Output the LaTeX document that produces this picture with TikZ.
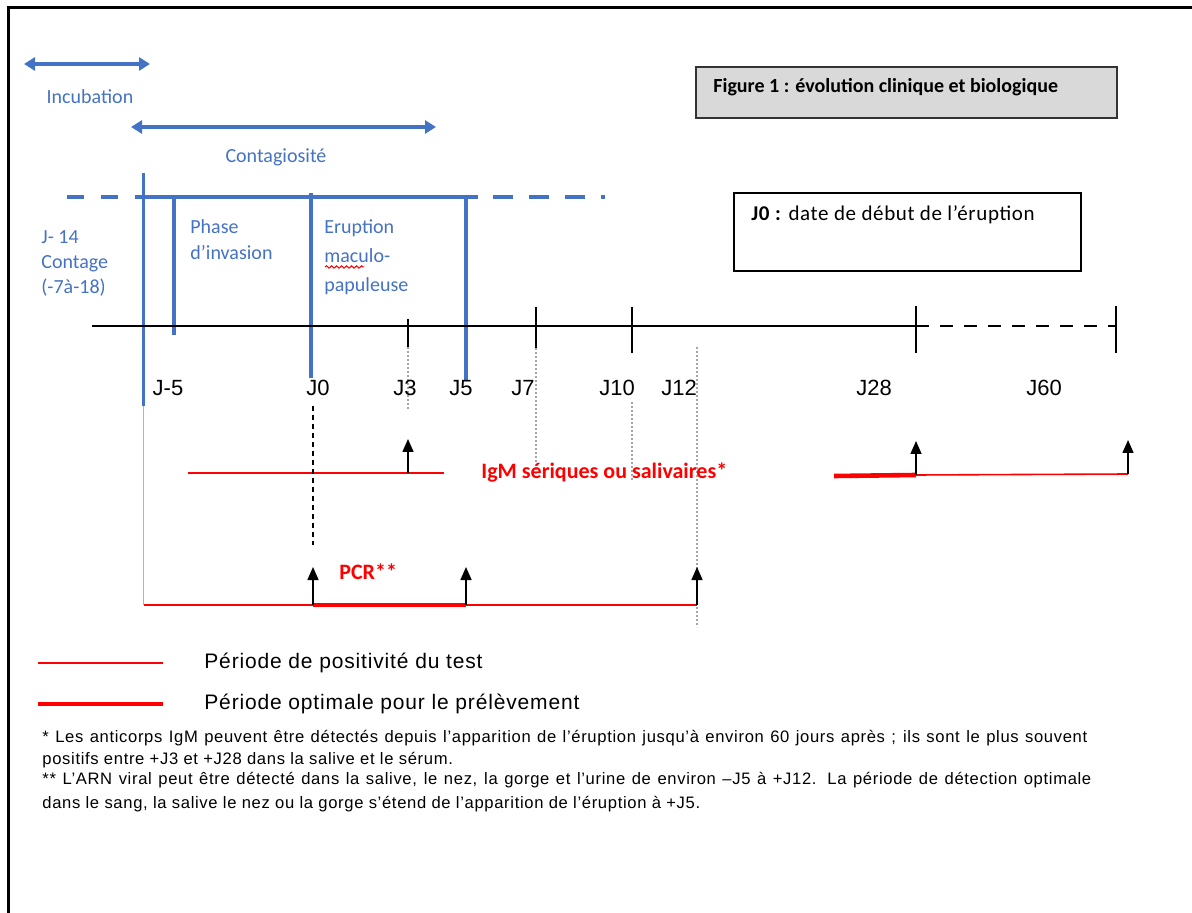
\documentclass[tikz,border=0pt]{standalone}
\usepackage{fontspec}
\setmainfont{Liberation Sans}
\newfontfamily\calib{Carlito}
\usetikzlibrary{arrows.meta,decorations.pathmorphing}
\definecolor{bleuph}{RGB}{68,114,196}
\definecolor{rougetest}{RGB}{255,0,0}
\definecolor{grisfig}{RGB}{217,217,217}
\definecolor{grispt}{RGB}{165,165,165}
\tikzset{
  phase/.style={bleuph,line width=1.6pt},
  duree/.style={phase,{Triangle[width=6.5pt,length=5.5pt]}-{Triangle[width=6.5pt,length=5.5pt]}},
  txtbleu/.style={text=bleuph,font=\calib\fontsize{10}{13.5}\selectfont,align=left,inner sep=0pt},
  jour/.style={font=\fontsize{11}{13}\selectfont,inner sep=0pt},
  repere/.style={line width=0.7pt},
  pointille/.style={grispt,line width=0.7pt,dash pattern=on 0.8pt off 1.2pt},
  positif/.style={rougetest,line width=0.8pt},
  optimal/.style={rougetest,line width=2.3pt},
  montee/.style={line width=0.8pt,-{Triangle[width=5.5pt,length=6.5pt]}},
  txtrouge/.style={text=rougetest,font=\calib\bfseries\fontsize{11}{12}\selectfont,inner sep=0pt,anchor=west},
  legende/.style={font=\addfontfeature{LetterSpace=4}\fontsize{10.5}{12}\selectfont,inner sep=0pt,anchor=west},
  note/.style={font=\addfontfeature{LetterSpace=4}\fontsize{8.3}{10}\selectfont,inner sep=0pt,anchor=west},
}
\begin{document}
\begin{tikzpicture}[x=0.5pt,y=-0.5pt]
  \useasboundingbox (0,0) rectangle (1192,913);
  \draw[line width=1.5pt] (8.5,913) -- (8.5,8) -- (1192,8);

  % incubation et contagiosite
  \coordinate (incA) at (24,64);
  \coordinate (incB) at (150,64);
  \draw[duree] (incA) -- (incB);
  \node[txtbleu] (incub) at (90,97) {Incubation};
  \coordinate (contA) at (131,127);
  \coordinate (contB) at (436,127);
  \draw[duree] (contA) -- (contB);
  \node[txtbleu] (contag) at (276,157) {Contagiosité};

  % bandeau des phases
  \coordinate (bandeG) at (67,197);
  \coordinate (bandeA) at (143.5,197);
  \coordinate (bandeB) at (478,197);
  \coordinate (bandeC) at (493,197);
  \coordinate (bandeD) at (605,197);
  \draw[phase,line width=2pt,dash pattern=on 8.5pt off 8.5pt] (bandeG) -- (bandeA);
  \draw[phase,line width=2pt] (bandeA) -- (bandeB);
  \draw[phase,line width=2pt,dash pattern=on 10pt off 8pt] (bandeC) -- (bandeD);
  \coordinate (j14haut) at (143.5,173);
  \coordinate (j14bas) at (143.5,406);
  \coordinate (j5haut) at (174,197);
  \coordinate (j5bas) at (174,335);
  \coordinate (j0haut) at (311,193);
  \coordinate (j0bas) at (311,378);
  \coordinate (finhaut) at (466,197);
  \coordinate (finbas) at (466,380);
  \foreach \h/\b in {j14haut/j14bas,j5haut/j5bas,j0haut/j0bas,finhaut/finbas}
    \draw[phase] (\h) -- (\b);
  \node[txtbleu,anchor=north west,font=\calib\fontsize{10}{12.5}\selectfont] (contage) at (41,230) {J- 14\\Contage\\(-7à-18)};
  \node[txtbleu,anchor=north west,font=\calib\fontsize{10}{13}\selectfont] (invasion) at (190,219) {Phase\\d’invasion};
  \node[txtbleu,anchor=north west,font=\calib\fontsize{10}{14.5}\selectfont] (eruption) at (324,219) {Eruption\\maculo-\\papuleuse};
  \draw[rougetest,line width=0.5pt,decorate,decoration={snake,amplitude=0.6pt,segment length=2.5pt}]
    (325,267) -- (364,267);

  % encadres
  \node[draw=black!80,line width=1pt,fill=grisfig,minimum width=421pt*0.5,minimum height=51pt*0.5,inner sep=0pt]
    (cadrefig) at (906.5,92.5) {};
  \node[font=\calib\bfseries\fontsize{10}{12}\selectfont,anchor=west,inner sep=0pt] (titre) at (713,87)
    {Figure 1 : évolution clinique et biologique};
  \node[draw,line width=0.8pt,minimum width=347pt*0.5,minimum height=78pt*0.5,inner sep=0pt]
    (cadrej0) at (907.5,232) {};
  \node[font=\calib\addfontfeature{LetterSpace=3}\fontsize{10.5}{12}\selectfont,anchor=west,inner sep=0pt] (defj0) at (751,215)
    {\textbf{J0 :} date de début de l’éruption};

  % axe du temps
  \coordinate (axeG) at (92,326);
  \coordinate (axe28) at (916,326);
  \coordinate (axe60) at (1116,326);
  \draw[line width=1.4pt] (axeG) -- (axe28);
  \draw[line width=1.4pt,dash pattern=on 6.5pt off 5.5pt] (axe28) -- (axe60);
  \draw[repere] (408,319) -- (408,347);
  \draw[repere] (536,307) -- (536,348);
  \draw[repere] (632,307) -- (632,353);
  \draw[repere] (916,306) -- (916,353);
  \draw[repere] (1116,306) -- (1116,353);
  \draw[pointille] (408,347) -- (408,410);
  \draw[pointille] (536,348) -- (536,480);
  \draw[pointille] (632,402) -- (632,480);
  \draw[pointille] (697,347) -- (697,627);
  \foreach \x/\j in {168/J-5,318/J0,405/J3,461/J5,523/J7,617/J10,679/J12,874/J28,1044/J60}
    \node[jour] (lab\j) at (\x,388) {\j};

  % IgM
  \coordinate (igmA) at (188,473);
  \coordinate (igmB) at (444,473);
  \coordinate (igm3) at (408,473);
  \coordinate (igmC) at (834,476);
  \coordinate (igm28) at (916,475);
  \coordinate (igm60) at (1128,474);
  \draw[positif] (igmA) -- (igmB);
  \draw[optimal] (igmC) -- (igm28);
  \draw[positif] (igm28) -- (igm60);
  \foreach \p in {igm3,igm28,igm60}
    \draw[montee] (\p) -- ++(0,-34);
  \node[txtrouge] (igm) at (481,472) {IgM sériques ou salivaires*};

  % PCR
  \coordinate (pcrA) at (143.5,605);
  \coordinate (pcr0) at (313,605);
  \coordinate (pcr5) at (466,605);
  \coordinate (pcr12) at (697,605);
  \draw[black!30,line width=0.6pt] (j14bas) -- (pcrA);
  \draw[line width=0.6pt,dash pattern=on 2.5pt off 2pt] (313,406) -- (313,545);
  \draw[positif] (pcrA) -- (pcr12);
  \draw[optimal] (pcr0) -- (pcr5);
  \foreach \p in {pcr0,pcr5,pcr12}
    \draw[montee] (\p) -- ++(0,-38);
  \node[txtrouge] (pcr) at (339,572) {PCR**};

  % legende
  \draw[positif] (38,663) -- (163,663);
  \draw[optimal] (38,704) -- (163,704);
  \node[legende] (leg1) at (204,663) {Période de positivité du test};
  \node[legende] (leg2) at (204,704) {Période optimale pour le prélèvement};

  % notes
  \node[note] (note1) at (42,738) {\makebox[522.5pt][s]{* Les anticorps IgM peuvent être détectés depuis l’apparition de l’éruption jusqu’à environ 60 jours après ; ils sont le plus souvent}};
  \node[note] (note1b) at (42,760) {positifs entre +J3 et +J28 dans la salive et le sérum.};
  \node[note] (note2) at (42,780) {\makebox[524.5pt][s]{** L’ARN viral peut être détecté dans la salive, le nez, la gorge et l’urine de environ –J5 à +J12. La période de détection optimale}};
  \node[note] (note2b) at (42,804) {dans le sang, la salive le nez ou la gorge s’étend de l’apparition de l’éruption à +J5.};
\end{tikzpicture}
\end{document}
